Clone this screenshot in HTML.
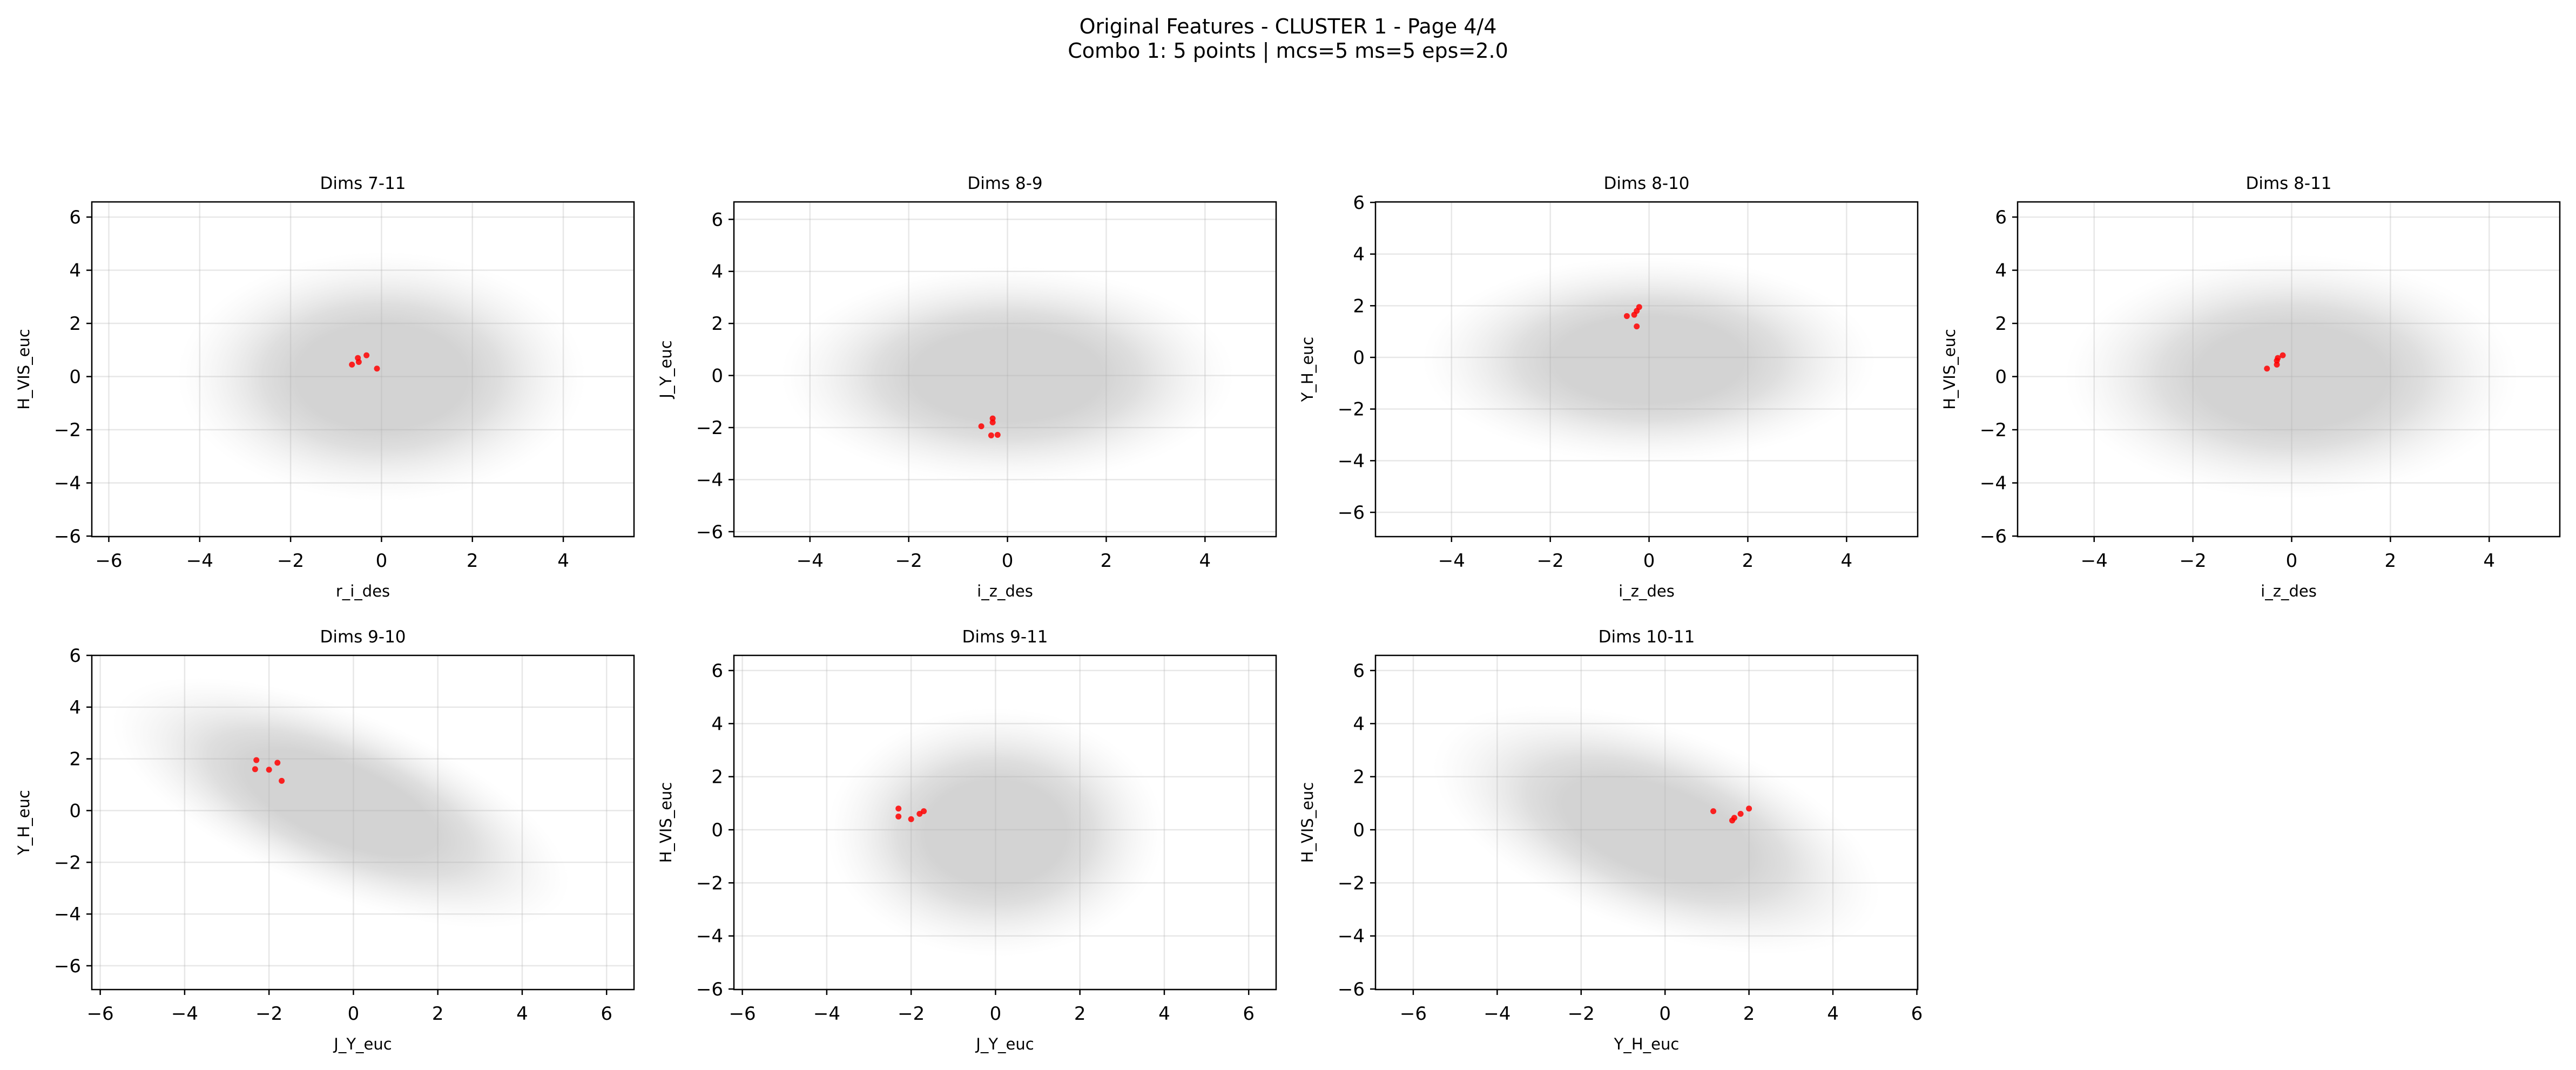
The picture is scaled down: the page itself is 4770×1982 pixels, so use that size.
<!DOCTYPE html>
<html><head><meta charset="utf-8">
<style>
html,body{margin:0;padding:0;background:#fff;}
svg{display:block;font-family:"DejaVu Sans","Liberation Sans",sans-serif;}
</style></head>
<body>
<svg id="fig" width="4770" height="1982" viewBox="0 0 4770 1982" xmlns="http://www.w3.org/2000/svg">
<defs>
<radialGradient id="cloud" cx="0.5" cy="0.5" r="0.5">
<stop offset="0" stop-color="#d3d3d3" stop-opacity="1"/>
<stop offset="0.42" stop-color="#d3d3d3" stop-opacity="1"/>
<stop offset="0.58" stop-color="#d6d6d6" stop-opacity="0.8"/>
<stop offset="0.78" stop-color="#e0e0e0" stop-opacity="0.4"/>
<stop offset="1" stop-color="#eeeeee" stop-opacity="0"/>
</radialGradient>
</defs>
<text x="2385" y="62" font-size="38" text-anchor="middle">Original Features - CLUSTER 1 - Page 4/4</text>
<text x="2385" y="107" font-size="38" text-anchor="middle">Combo 1: 5 points | mcs=5 ms=5 eps=2.0</text>
</svg>
<script>
// ---- data ----
const panelTitles = ["Dims 7-11","Dims 8-9","Dims 8-10","Dims 8-11","Dims 9-10","Dims 9-11","Dims 10-11"];
const xLabels = ["r_i_des","i_z_des","i_z_des","i_z_des","J_Y_euc","J_Y_euc","Y_H_euc"];
const yLabels = ["H_VIS_euc","J_Y_euc","Y_H_euc","H_VIS_euc","Y_H_euc","H_VIS_euc","H_VIS_euc"];
const xRanges = [[-6.374,5.556],[-5.54,5.44],[-5.54,5.44],[-5.55,5.43],[-6.2,6.65],[-6.2,6.65],[-6.9,6.02]];
const yRanges = [[-6.02,6.57],[-6.19,6.67],[-6.94,6.02],[-6.02,6.57],[-6.92,6.0],[-6.02,6.57],[-6.02,6.57]];
const xTicks = [[-6,-4,-2,0,2,4],[-4,-2,0,2,4],[-4,-2,0,2,4],[-4,-2,0,2,4],[-6,-4,-2,0,2,4,6],[-6,-4,-2,0,2,4,6],[-6,-4,-2,0,2,4,6]];
const yTicks = [[-6,-4,-2,0,2,4,6],[-6,-4,-2,0,2,4,6],[-6,-4,-2,0,2,4,6],[-6,-4,-2,0,2,4,6],[-6,-4,-2,0,2,4,6],[-6,-4,-2,0,2,4,6],[-6,-4,-2,0,2,4,6]];
// red cluster points
const clusterX = [
 [-0.65,-0.52,-0.50,-0.33,-0.10],
 [-0.53,-0.30,-0.30,-0.33,-0.20],
 [-0.45,-0.30,-0.25,-0.20,-0.25],
 [-0.50,-0.30,-0.30,-0.28,-0.18],
 [-2.30,-2.33,-2.00,-1.80,-1.70],
 [-2.30,-2.30,-2.00,-1.80,-1.70],
 [1.15,1.60,1.65,1.80,2.00]];
const clusterY = [
 [0.45,0.70,0.55,0.80,0.30],
 [-1.95,-1.65,-1.80,-2.30,-2.28],
 [1.60,1.65,1.80,1.95,1.20],
 [0.30,0.45,0.60,0.70,0.80],
 [1.95,1.60,1.58,1.85,1.15],
 [0.80,0.50,0.40,0.60,0.70],
 [0.70,0.35,0.45,0.60,0.80]];
// background density clouds: center, semi-axes (data units), rotation (deg, data space)
const cloudCX = [0,0,0,0,-0.3,0,-0.2];
const cloudCY = [0,0,-0.1,0,0.3,-0.1,0.0];
const cloudA  = [4.5,4.6,4.6,4.6,6.6,4.0,6.2];
const cloudB  = [4.7,4.2,4.0,4.6,3.1,4.7,3.5];
const cloudRot= [0,0,0,0,-40,0,-38];

// ---- layout ----
const colLeft = [170,1359,2547,3736];
const W = 1004;
const rowTop = [374,1214];
const H = [620,619];
const svg = document.getElementById('fig');
const NS = "http://www.w3.org/2000/svg";
function mk(tag, attrs, parent){const e=document.createElementNS(NS,tag);for(const k in attrs)e.setAttribute(k,attrs[k]);(parent||svg).appendChild(e);return e;}

for(let p=0;p<7;p++){
  const L = colLeft[p%4], T = rowTop[p<4?0:1], h = H[p<4?0:1];
  const xr = xRanges[p], yr = yRanges[p];
  const sx = v => L + (v-xr[0])/(xr[1]-xr[0])*W;
  const sy = v => T + h - (v-yr[0])/(yr[1]-yr[0])*h;
  const g = mk('g',{});
  
  
  const clipId='clip'+p;
  const cp = mk('clipPath',{id:clipId},g); mk('rect',{x:L,y:T,width:W,height:h},cp);
  const plot = mk('g',{'clip-path':'url(#'+clipId+')'},g);
  const kx=W/(xr[1]-xr[0]), ky=h/(yr[1]-yr[0]);
  const cg = mk('g',{transform:`translate(${sx(cloudCX[p])},${sy(cloudCY[p])}) scale(${kx},${-ky}) rotate(${cloudRot[p]})`},plot);
  const cl = mk('ellipse',{cx:0,cy:0,rx:cloudA[p],ry:cloudB[p],fill:'url(#cloud)'},cg);
  
  
  xTicks[p].forEach(t=>{const x=sx(t);const gl=mk('line',{x1:x,x2:x,y1:T,y2:T+h,stroke:'#b0b0b0','stroke-opacity':0.3,'stroke-width':2.5},plot);
    
    });
  yTicks[p].forEach(t=>{const y=sy(t);const gl=mk('line',{x1:L,x2:L+W,y1:y,y2:y,stroke:'#b0b0b0','stroke-opacity':0.3,'stroke-width':2.5},plot);
    
    });
  for(let i=0;i<clusterX[p].length;i++){
    const c=mk('circle',{cx:sx(clusterX[p][i]),cy:sy(clusterY[p][i]),r:5.5,fill:'#ff0000','fill-opacity':0.85},plot);
    
    
  }
  const fr=mk('rect',{x:L,y:T,width:W,height:h,fill:'none',stroke:'#000','stroke-width':2.5},g);
  
  
  xTicks[p].forEach(t=>{const x=sx(t);mk('line',{x1:x,x2:x,y1:T+h,y2:T+h+10,stroke:'#000','stroke-width':2.5},g);
    const tl=mk('text',{x:x,y:T+h+56,'font-size':34,'text-anchor':'middle'},g);tl.textContent=(t<0?'\u2212'+(-t):String(t));
    
    });
  yTicks[p].forEach(t=>{const y=sy(t);mk('line',{x1:L-10,x2:L,y1:y,y2:y,stroke:'#000','stroke-width':2.5},g);
    const tl=mk('text',{x:L-20,y:y+12,'font-size':34,'text-anchor':'end'},g);tl.textContent=(t<0?'\u2212'+(-t):String(t));
    
    });
  const ti=mk('text',{x:L+W/2,y:T-24,'font-size':31,'text-anchor':'middle'},g);ti.textContent=panelTitles[p];
  
  
  const xl=mk('text',{x:L+W/2,y:T+h+111,'font-size':29,'text-anchor':'middle'},g);xl.textContent=xLabels[p];
  
  
  const ycx=L-116, ycy=T+h/2;
  const yl=mk('text',{x:ycx,y:ycy,'font-size':29,'text-anchor':'middle',transform:`rotate(-90 ${ycx} ${ycy})`},g);yl.textContent=yLabels[p];
  
  
}
</script>
</body></html>
